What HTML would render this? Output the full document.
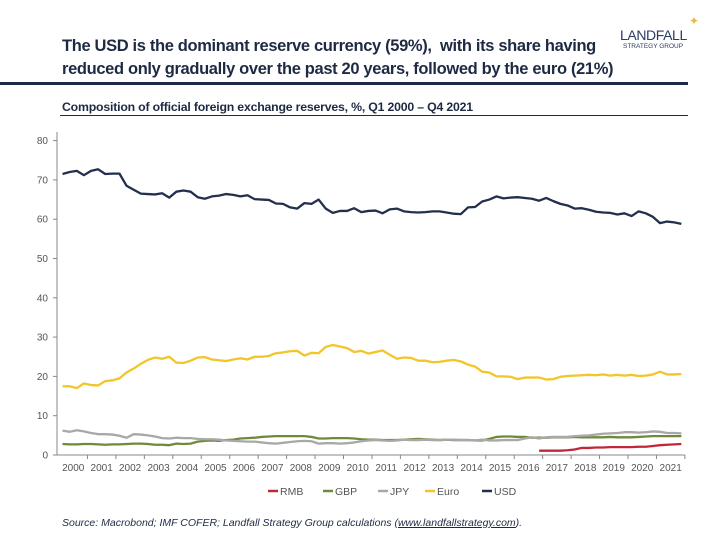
<!DOCTYPE html>
<html><head><meta charset="utf-8"><style>
body{margin:0;width:720px;height:540px;background:#fff;font-family:"Liberation Sans",sans-serif;overflow:hidden;position:relative}
.t{position:absolute;left:62px;font-weight:bold;font-size:16.5px;color:#1e2a44;letter-spacing:-0.35px;white-space:nowrap}
</style></head><body>
<div class="t" style="top:37px">The USD is the dominant reserve currency (59%),&nbsp; with its share having</div>
<div class="t" style="top:60px">reduced only gradually over the past 20 years, followed by the euro (21%)</div>
<div style="position:absolute;left:620px;top:27px;font-size:14px;color:#2b3a63;letter-spacing:-0.4px">LANDFALL</div>
<div style="position:absolute;left:623px;top:43px;font-size:6.5px;color:#2b3a63">STRATEGY GROUP</div>
<div style="position:absolute;left:689px;top:14px;font-size:12px;color:#e8b84a">✦</div>
<div style="position:absolute;left:0;top:82px;width:688px;height:3px;background:#1e2a4a"></div>
<div style="position:absolute;left:62px;top:100px;font-size:12.3px;font-weight:bold;color:#1e2a44;letter-spacing:-0.2px">Composition of official foreign exchange reserves, %, Q1 2000 – Q4 2021</div>
<div style="position:absolute;left:60px;top:115px;width:628px;height:1px;background:#1e2a4a"></div>
<svg id="c" width="720" height="540" style="position:absolute;left:0;top:0"></svg>
<div style="position:absolute;left:62px;top:517px;font-size:10.5px;font-style:italic;color:#1e2a44">Source: Macrobond; IMF COFER; Landfall Strategy Group calculations (<u>www.landfallstrategy.com</u>).</div>
<script>
const years=[2000,2001,2002,2003,2004,2005,2006,2007,2008,2009,2010,2011,2012,2013,2014,2015,2016,2017,2018,2019,2020,2021];
const yTicks=[0,10,20,30,40,50,60,70,80];
const usd=[71.5,72,72.3,71.2,72.3,72.7,71.5,71.6,71.6,68.5,67.5,66.5,66.4,66.3,66.6,65.5,67,67.3,67,65.6,65.2,65.8,66,66.4,66.2,65.8,66.1,65.1,65,64.9,64,63.9,63,62.7,64.1,63.9,65,62.7,61.6,62.1,62.1,62.8,61.8,62.1,62.2,61.5,62.5,62.7,62,61.8,61.7,61.8,62,62,61.7,61.4,61.3,63,63.1,64.5,65,65.8,65.3,65.5,65.6,65.4,65.2,64.7,65.4,64.6,63.9,63.5,62.7,62.8,62.4,61.9,61.7,61.6,61.2,61.5,60.8,62,61.5,60.6,59,59.4,59.2,58.8];
const euro=[17.5,17.5,17,18.2,17.8,17.7,18.8,19,19.5,21,22,23.2,24.2,24.8,24.5,25,23.5,23.4,24,24.8,24.9,24.3,24.1,23.9,24.3,24.6,24.3,25,25,25.2,25.9,26.1,26.4,26.5,25.3,26,25.9,27.5,28,27.6,27.2,26.2,26.5,25.8,26.2,26.6,25.5,24.5,24.8,24.7,24,24,23.6,23.7,24,24.2,23.8,23,22.5,21.2,21,20,20,19.9,19.3,19.7,19.7,19.7,19.2,19.3,19.9,20.1,20.2,20.3,20.4,20.3,20.5,20.2,20.4,20.2,20.4,20.1,20.2,20.5,21.2,20.5,20.5,20.6];
const jpy=[6.2,5.9,6.3,6,5.6,5.3,5.3,5.2,4.9,4.4,5.3,5.2,5,4.7,4.3,4.2,4.4,4.3,4.3,4.1,4,4,3.9,3.7,3.6,3.5,3.4,3.4,3.2,3,2.9,3.1,3.3,3.5,3.6,3.5,2.9,3,3,2.9,3,3.2,3.5,3.7,3.8,3.7,3.6,3.7,3.9,3.8,3.8,3.9,3.8,3.8,3.9,3.9,3.8,3.8,3.7,3.9,3.7,3.7,3.8,3.8,3.8,4.2,4.5,4.2,4.5,4.6,4.6,4.6,4.8,4.9,5,5.2,5.4,5.5,5.6,5.8,5.8,5.7,5.8,6,5.9,5.6,5.6,5.5];
const gbp=[2.8,2.7,2.7,2.8,2.8,2.7,2.6,2.7,2.7,2.8,2.9,2.9,2.8,2.6,2.6,2.5,2.9,2.8,2.9,3.4,3.6,3.7,3.6,3.8,3.9,4.2,4.3,4.4,4.6,4.7,4.8,4.8,4.8,4.8,4.8,4.6,4.2,4.2,4.3,4.3,4.3,4.2,4,3.9,3.9,3.8,3.8,3.8,3.9,4,4.1,4,3.9,3.8,3.9,3.8,3.8,3.8,3.7,3.7,4.1,4.6,4.7,4.7,4.6,4.6,4.4,4.4,4.4,4.5,4.5,4.5,4.6,4.5,4.5,4.5,4.5,4.6,4.5,4.5,4.5,4.6,4.7,4.8,4.8,4.8,4.8,4.8];
const rmbStart=67;
const rmb=[1.1,1.1,1.1,1.1,1.2,1.4,1.8,1.8,1.9,1.9,2.0,2.0,2.0,2.0,2.1,2.1,2.3,2.5,2.6,2.7,2.8];
const series=[["RMB",rmb,"#c0283a",rmbStart],["GBP",gbp,"#6f8a3a",0],["JPY",jpy,"#a8a8a8",0],["Euro",euro,"#f2c52a",0],["USD",usd,"#22304d",0]];
const X0=59,YW=28.45,Y0=455,YS=3.93;
const xq=i=>X0+(i+0.5)*YW/4, y=v=>Y0-v*YS;
const svg=document.getElementById('c'),NS="http://www.w3.org/2000/svg";
function mk(t,a,p){const e=document.createElementNS(NS,t);for(const k in a)e.setAttribute(k,a[k]);(p||svg).appendChild(e);return e;}
let e=mk('line',{x1:57,x2:57,y1:132,y2:Y0,stroke:'#888'});

e=mk('line',{x1:57,x2:X0+22*YW,y1:Y0,y2:Y0,stroke:'#888'});

yTicks.forEach(v=>{mk('line',{x1:53,x2:57,y1:y(v),y2:y(v),stroke:'#888'});
 const t=mk('text',{x:48,y:y(v)+3.5,'text-anchor':'end','font-size':10,fill:'#555'});t.textContent=v;
 });
years.forEach((yr,i)=>{mk('line',{x1:X0+(i+1)*YW,x2:X0+(i+1)*YW,y1:Y0,y2:Y0+4,stroke:'#888'});
 const t=mk('text',{x:X0+(i+0.5)*YW,y:Y0+16,'text-anchor':'middle','font-size':10,fill:'#555'});t.textContent=yr;
 });
series.forEach(([n,d,c,s])=>{const p=mk('polyline',{points:d.map((v,i)=>xq(i+s)+','+y(v)).join(' '),fill:'none',stroke:c,'stroke-width':2.3,'stroke-linejoin':'round'});
 });
const lx=[268,323,378,425,482];
series.forEach(([n,d,c],i)=>{const g=mk('g',{});
 
 mk('line',{x1:lx[i],x2:lx[i]+10,y1:491,y2:491,stroke:c,'stroke-width':2.5},g);
 const t=mk('text',{x:lx[i]+12,y:495,'font-size':10.5,fill:'#555'},g);t.textContent=n;});
</script>
</body></html>
